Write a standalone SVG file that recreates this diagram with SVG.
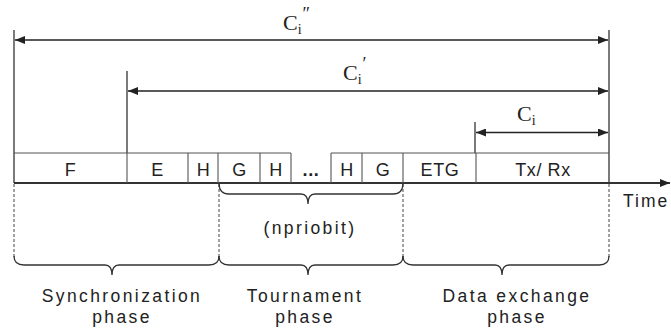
<svg xmlns="http://www.w3.org/2000/svg" width="671" height="334" viewBox="0 0 671 334">
  <defs>
    <marker id="head" viewBox="0 0 10 8" refX="10" refY="4" markerWidth="10" markerHeight="8" markerUnits="userSpaceOnUse" orient="auto-start-reverse">
      <path d="M0,0 L10,4 L0,8 z" fill="#222"/>
    </marker>
    <style>
      .dim { stroke: #222; stroke-width: 1.6; fill: none; }
      .tick { stroke: #222; stroke-width: 1.2; fill: none; }
      .box { stroke: #555; stroke-width: 1.1; fill: none; }
      .axis { stroke: #333; stroke-width: 2; fill: none; }
      .dash { stroke: #444; stroke-width: 1; stroke-dasharray: 3 2; fill: none; }
      .brace { stroke: #333; stroke-width: 1.3; fill: none; }
      .cell { font-family: "Liberation Sans", Arial, sans-serif; font-size: 18px; fill: #222; text-anchor: middle; letter-spacing: 0.6px; }
      .phase { font-family: "Liberation Sans", Arial, sans-serif; font-size: 17.5px; fill: #222; text-anchor: middle; letter-spacing: 2.4px; }
      .time { font-family: "Liberation Sans", Arial, sans-serif; font-size: 17.5px; fill: #222; text-anchor: start; letter-spacing: 2px; }
      .cap { font-family: "Liberation Serif", "Times New Roman", serif; font-size: 22px; fill: #222; }
      .sub { font-size: 14px; }
    </style>
  </defs>

  <!-- duration markers -->
  <g id="connectors">
    <line class="tick" x1="14" y1="30" x2="14" y2="183"/>
    <line class="tick" x1="127" y1="71" x2="127" y2="153"/>
    <line class="tick" x1="475" y1="122" x2="475" y2="153"/>
    <line class="tick" x1="609" y1="30" x2="609" y2="183"/>
    <line class="dim" x1="15" y1="40" x2="608" y2="40" marker-start="url(#head)" marker-end="url(#head)"/>
    <line class="dim" x1="128" y1="91" x2="608" y2="91" marker-start="url(#head)" marker-end="url(#head)"/>
    <line class="dim" x1="476" y1="132.5" x2="608" y2="132.5" marker-start="url(#head)" marker-end="url(#head)"/>
    <!-- time axis -->
    <line class="axis" x1="14" y1="183" x2="670" y2="183" marker-end="url(#head)"/>
    <!-- phase boundaries -->
    <line class="dash" x1="14" y1="184" x2="14" y2="258"/>
    <line class="dash" x1="219" y1="184" x2="219" y2="258"/>
    <line class="dash" x1="403" y1="184" x2="403" y2="258"/>
    <line class="dash" x1="609" y1="184" x2="609" y2="258"/>
  </g>

  <g id="labels-c">
    <text class="cap" x="283" y="30">C<tspan class="sub" dy="4">i</tspan><tspan dx="1" dy="-14" font-size="18">″</tspan></text>
    <text class="cap" x="343" y="80">C<tspan class="sub" dy="4">i</tspan><tspan dx="1" dy="-14" font-size="18">′</tspan></text>
    <text class="cap" x="517" y="121">C<tspan class="sub" dy="4">i</tspan></text>
  </g>

  <!-- frame cells -->
  <g id="frame">
    <path class="box" d="M14,153 H291 M331,153 H609"/>
    <path class="box" d="M127,153 V183 M188,153 V183 M218,153 V183 M260,153 V183 M291,153 V183 M331,153 V183 M362,153 V183 M403,153 V183 M476,153 V183"/>
  </g>
  <g id="cell-F"><text class="cell" x="70.5" y="176">F</text></g>
  <g id="cell-E"><text class="cell" x="157.5" y="176">E</text></g>
  <g id="cell-H1"><text class="cell" x="203.5" y="176">H</text></g>
  <g id="cell-G1"><text class="cell" x="239.5" y="176">G</text></g>
  <g id="cell-H2"><text class="cell" x="276" y="176">H</text></g>
  <g id="cell-dots"><text class="cell" x="311" y="176" font-weight="bold">...</text></g>
  <g id="cell-H3"><text class="cell" x="347" y="176">H</text></g>
  <g id="cell-G2"><text class="cell" x="383" y="176">G</text></g>
  <g id="cell-ETG"><text class="cell" x="440" y="176">ETG</text></g>
  <g id="cell-TxRx"><text class="cell" x="543" y="176">Tx/ Rx</text></g>
  <g id="time-label"><text class="time" x="623" y="207">Time</text></g>

  <!-- braces -->
  <g id="brace-npriobit">
    <path class="brace" d="M219,183 Q219,194 229,194 L301,194 Q308,194 308,204 Q308,194 315,194 L393,194 Q403,194 403,183"/>
    <text class="phase" x="310" y="234">(npriobit)</text>
  </g>
  <g id="sync-phase">
    <path class="brace" d="M14,256 Q14,265 24,265 L105,265 Q112,265 112,275 Q112,265 119,265 L209,265 Q219,265 219,256"/>
    <text class="phase" x="122" y="302">Synchronization</text>
    <text class="phase" x="122" y="323">phase</text>
  </g>
  <g id="tournament-phase">
    <path class="brace" d="M219,256 Q219,265 229,265 L301,265 Q308,265 308,275 Q308,265 315,265 L393,265 Q403,265 403,256"/>
    <text class="phase" x="305" y="302">Tournament</text>
    <text class="phase" x="305" y="323">phase</text>
  </g>
  <g id="data-phase">
    <path class="brace" d="M403,256 Q403,265 413,265 L495,265 Q502,265 502,275 Q502,265 509,265 L599,265 Q609,265 609,256"/>
    <text class="phase" x="517" y="302">Data exchange</text>
    <text class="phase" x="517" y="323">phase</text>
  </g>
</svg>
